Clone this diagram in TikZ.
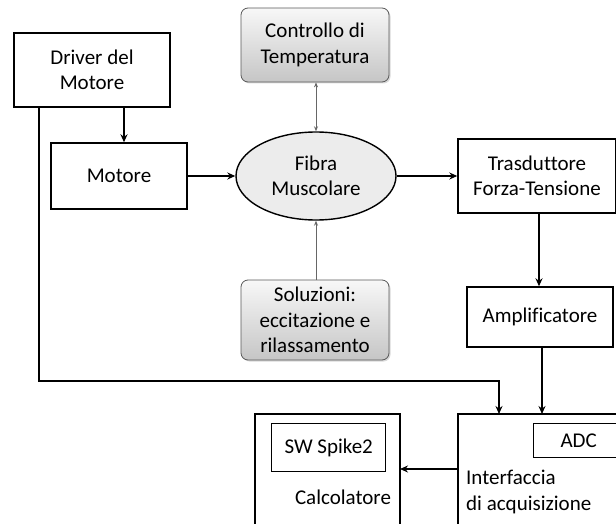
\documentclass[tikz,border=0pt]{standalone}
\usepackage{fontspec}
\setmainfont{Carlito}[Ligatures=NoCommon]
\usetikzlibrary{arrows.meta,shadows,positioning,shapes.geometric}
\begin{document}
\begin{tikzpicture}[x=1pt,y=-1pt,
  font=\fontsize{21}{25.5}\selectfont,
  box/.style={draw,line width=1.4pt,minimum width=#1,inner sep=0pt,align=center},
  shbox/.style={draw=gray!70!black,line width=0.8pt,rounded corners=7pt,top color=gray!6,bottom color=gray!45,
    minimum width=148pt,inner sep=0pt,align=center,drop shadow={shadow xshift=1.5pt,shadow yshift=-1.5pt,opacity=0.3}},
  arr/.style={line width=1.4pt,-{Stealth[length=8pt,width=7pt]}},
  garr/.style={line width=0.8pt,draw=gray!80!black,{Stealth[length=5pt,width=4pt]}-{Stealth[length=5pt,width=4pt]}},
  garr1/.style={line width=0.8pt,draw=gray!80!black,-{Stealth[length=5pt,width=4pt]}}
]
\useasboundingbox (0,0) rectangle (616,524);
\clip (0,0) rectangle (616,524);
\node[box=156pt,minimum height=74pt] (driver) at (92,70) {Driver del\\Motore};
\node[box=136pt,minimum height=66pt] (motore) at (119,176) {Motore};
\node[shbox,minimum height=74pt] (temp) at (315,45) {Controllo di\\Temperatura};
\node[draw,line width=1.4pt,ellipse,fill=gray!15,minimum width=160pt,minimum height=88pt,inner sep=0pt,align=center] (fibra) at (316,176) {Fibra\\Muscolare};
\node[shbox,minimum height=80pt] (sol) at (315,320) {Soluzioni:\\eccitazione e\\rilassamento};
\node[box=158pt,minimum height=74pt] (trasd) at (537,176) {Trasduttore\\Forza-Tensione};
\node[box=146pt,minimum height=60pt] (ampl) at (540,317) {Amplificatore};
\draw[line width=1.4pt] (458,414) rectangle (640,540);
\coordinate (intf) at (458,469);
\coordinate (intfa) at (499,414);
\coordinate (intfb) at (542,414);
\node[box=90pt,minimum height=34pt,anchor=north west] (adc) at (533,423) {ADC};
\node[anchor=north west,align=left,inner sep=0pt] (intlbl) at (466,470) {Interfaccia\\di acquisizione};
\draw[line width=1.4pt] (255,414) rectangle (400,540);
\coordinate (calc) at (400,469);
\node[box=114pt,minimum height=48pt,anchor=north west] (sw) at (271,423) {SW Spike2};
\node (calclbl) at (343,497) {Calcolatore};
\draw[arr] (driver.south -| 124,0) -- (motore.north -| 124,0);
\draw[arr] (motore.east) -- (fibra.west);
\draw[arr] (fibra.east) -- (trasd.west);
\draw[garr] (temp.south -| fibra.north) -- (fibra.north);
\draw[garr1] (sol.north -| fibra.south) -- (fibra.south);
\draw[arr] (trasd.south -| 539,0) -- (ampl.north -| 539,0);
\draw[arr] (ampl.south -| intfb) -- (intfb);
\draw[arr] (driver.south -| 39,0) -- (39,381) -| (intfa);
\draw[arr] (intf) -- (calc);
\end{tikzpicture}
\end{document}
